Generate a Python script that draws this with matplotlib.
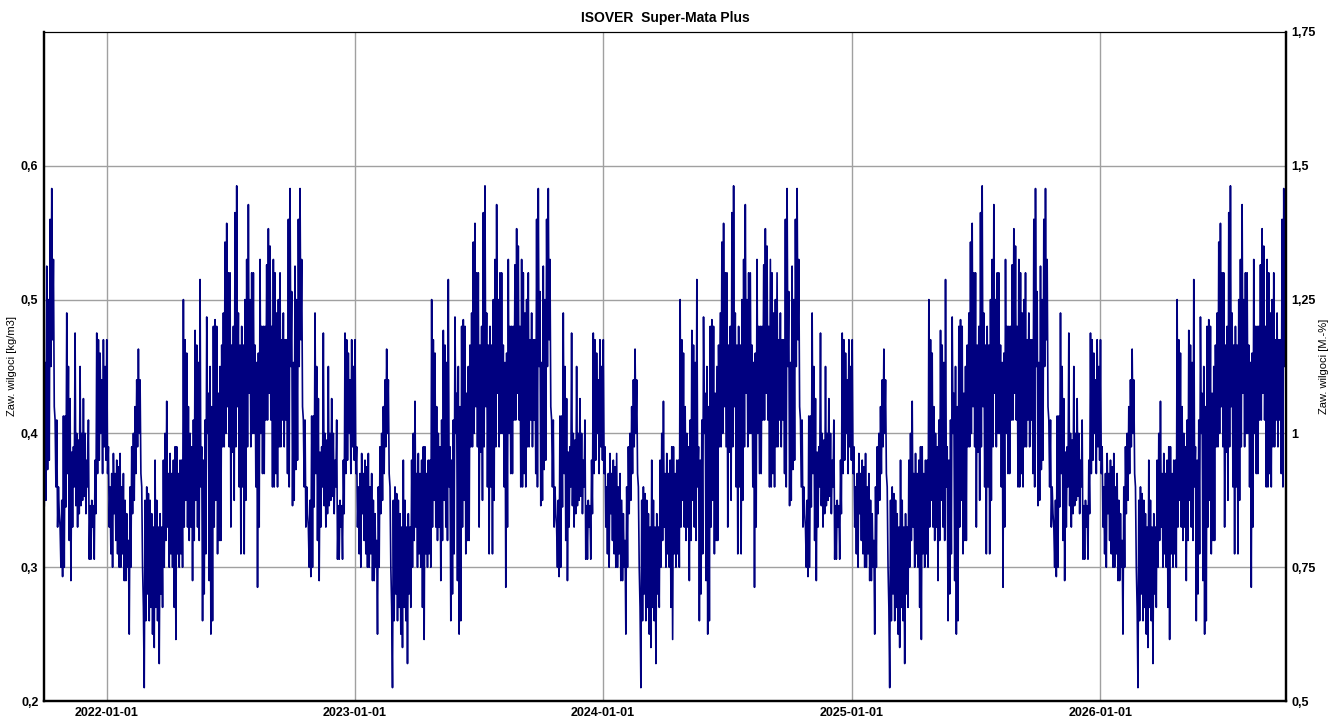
import numpy as np
import pandas as pd
import matplotlib
matplotlib.use("Agg")
import matplotlib.pyplot as plt
import matplotlib.dates as mdates
from matplotlib.ticker import FuncFormatter

plt.rcParams['font.family'] = ['Liberation Sans', 'DejaVu Sans']

# one climate year of moisture content [kg/m3],
# starting around 20 Dec, alternating high / low readings
year_profile = [
    0.47, 0.38, 0.46, 0.40, 0.44, 0.37, 0.47, 0.39, 0.45, 0.38, 0.47, 0.37,
    0.39, 0.33, 0.36, 0.31, 0.37, 0.30, 0.385, 0.34, 0.37, 0.32, 0.38, 0.31,
    0.375, 0.30, 0.385, 0.30, 0.36, 0.31, 0.37, 0.29, 0.35, 0.29, 0.34, 0.30,
    0.32, 0.25, 0.36, 0.30, 0.39, 0.34, 0.40, 0.35, 0.42, 0.37, 0.44, 0.39,
    0.463, 0.40, 0.44, 0.37, 0.36, 0.30, 0.27, 0.21, 0.35, 0.26, 0.36, 0.28,
    0.355, 0.26, 0.35, 0.27, 0.34, 0.25, 0.33, 0.24, 0.38, 0.27, 0.35, 0.26,
    0.33, 0.228, 0.34, 0.28, 0.33, 0.27, 0.38, 0.30, 0.40, 0.32, 0.424, 0.33,
    # mid Mar
    0.37, 0.30, 0.385, 0.31, 0.37, 0.30, 0.38, 0.27, 0.39, 0.246, 0.39, 0.31,
    0.37, 0.30, 0.38, 0.31, 0.38, 0.30, 0.50, 0.33, 0.47, 0.35, 0.46, 0.33,
    0.42, 0.32, 0.40, 0.33, 0.39, 0.29, 0.41, 0.32, 0.477, 0.35, 0.466, 0.33,
    0.453, 0.32, 0.515, 0.36, 0.39, 0.26, 0.38, 0.28, 0.41, 0.31, 0.487, 0.40,
    0.43, 0.29, 0.45, 0.25, 0.42, 0.26, 0.48, 0.33, 0.485, 0.35, 0.48, 0.31,
    0.43, 0.32, 0.45, 0.32, 0.466, 0.39, 0.49, 0.39, 0.543, 0.40, 0.557, 0.42,
    0.52, 0.39, 0.52, 0.33, 0.466, 0.386,
    # summer
    0.48, 0.35, 0.565, 0.39, 0.585, 0.42, 0.49, 0.36, 0.466, 0.31, 0.48, 0.36,
    0.466, 0.31, 0.50, 0.35, 0.53, 0.39, 0.571, 0.43, 0.50, 0.39, 0.52, 0.40,
    0.52, 0.40, 0.466, 0.36, 0.453, 0.285, 0.46, 0.33, 0.53, 0.40, 0.48, 0.37,
    0.48, 0.37, 0.48, 0.41, 0.526, 0.41, 0.553, 0.43, 0.54, 0.41, 0.48, 0.36,
    0.53, 0.36, 0.52, 0.37, 0.49, 0.36, 0.50, 0.39, 0.52, 0.39, 0.47, 0.41,
    0.49, 0.39, 0.47, 0.41, 0.47, 0.37, 0.56, 0.36, 0.583, 0.45, 0.506, 0.346,
    0.453, 0.35, 0.525, 0.373, 0.50, 0.38,
    # autumn
    0.56, 0.45, 0.583, 0.47, 0.53, 0.42, 0.41, 0.36, 0.41, 0.33, 0.36, 0.34,
    0.33, 0.30, 0.35, 0.293, 0.413, 0.30, 0.413, 0.345, 0.49, 0.37, 0.45, 0.32,
    0.426, 0.29, 0.386, 0.33, 0.39, 0.36, 0.475, 0.346, 0.40, 0.33, 0.395, 0.34,
    0.45, 0.346, 0.40, 0.35, 0.426, 0.353, 0.40, 0.34, 0.38, 0.36, 0.41, 0.306,
    0.346, 0.306, 0.35, 0.33, 0.346, 0.306, 0.38, 0.34, 0.475, 0.37,
]

profile_start = pd.Timestamp('2021-12-20')
sim_start = pd.Timestamp('2021-10-01')
sim_end = pd.Timestamp('2026-10-01')

title = 'ISOVER  Super-Mata Plus'
ylabel_left = 'Zaw. wilgoci [kg/m3]'
ylabel_right = 'Zaw. wilgoci [M.-%]'
left_ticks = [0.2, 0.3, 0.4, 0.5, 0.6]
right_ticks = [0.5, 0.75, 1.0, 1.25, 1.5, 1.75]
year_ticks = pd.to_datetime(['2022-01-01', '2023-01-01', '2024-01-01',
                             '2025-01-01', '2026-01-01'])

# repeat the climate year over the simulated period
vals = np.array(year_profile)
frac = np.arange(len(vals)) / len(vals)
t_parts, v_parts = [], []
for k in range(-1, 5):
    y0 = profile_start + pd.DateOffset(years=k)
    y1 = profile_start + pd.DateOffset(years=k + 1)
    secs = (y1 - y0).total_seconds() * frac
    t_parts.append(y0 + pd.to_timedelta(secs, unit='s'))
    v_parts.append(vals)
t_all = t_parts[0]
for t in t_parts[1:]:
    t_all = t_all.append(t)
v_all = np.concatenate(v_parts)
keep = (t_all >= sim_start) & (t_all <= sim_end)
t_all, v_all = t_all[keep], v_all[keep]

fig = plt.figure(figsize=(13.32, 7.18), dpi=100)
ax = fig.add_axes([44 / 1332, 1 - 701 / 718, (1286 - 44) / 1332, (701 - 32) / 718])
ax.plot(t_all, v_all, color='#000080', lw=1.2)

ax.set_xlim(sim_start, sim_end)
ax.set_ylim(0.2, 0.7)
ax.set_yticks(left_ticks)
comma = FuncFormatter(lambda v, p: ('%g' % v).replace('.', ','))
ax.yaxis.set_major_formatter(comma)
ax.set_xticks(year_ticks)
ax.xaxis.set_major_formatter(mdates.DateFormatter('%Y-%m-%d'))
ax.grid(True, color='#a0a0a0', lw=1)
ax.tick_params(length=0, labelsize=9, pad=4)
for lab in ax.get_xticklabels() + ax.get_yticklabels():
    lab.set_fontweight('bold')
ax.set_ylabel(ylabel_left, fontsize=8)
ax.yaxis.set_label_coords(-0.0215, 0.5)
ax.set_title(title, fontsize=10, fontweight='bold', pad=7)

ax2 = ax.twinx()
ax2.set_ylim(0.5, 1.75)
ax2.set_yticks(right_ticks)
ax2.yaxis.set_major_formatter(comma)
ax2.tick_params(length=0, labelsize=9, pad=4)
for lab in ax2.get_yticklabels():
    lab.set_fontweight('bold')
ax2.set_ylabel(ylabel_right, fontsize=8, rotation=90, va='center')
ax2.yaxis.set_label_coords(1.0305, 0.5)

for a in (ax, ax2):
    for s in ('left', 'bottom', 'right'):
        a.spines[s].set_linewidth(1.6)
    a.spines['top'].set_linewidth(0.8)

fig.savefig('out.png', dpi=100)
